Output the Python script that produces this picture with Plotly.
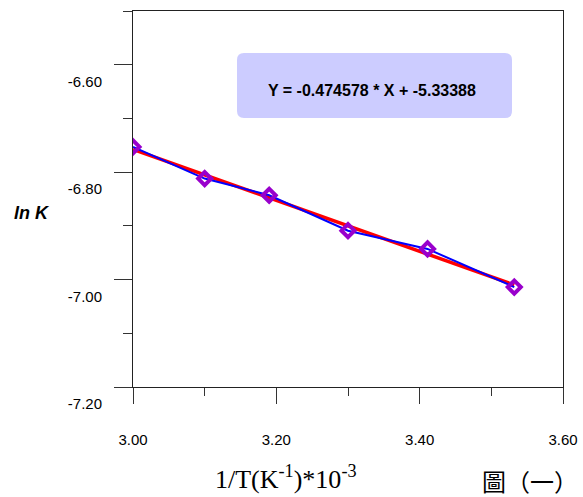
import plotly.graph_objects as go

# Data
inv_T = [3.000, 3.100, 3.190, 3.300, 3.411, 3.532]
ln_K = [-6.753, -6.812, -6.843, -6.909, -6.943, -7.014]

slope = -0.474578
intercept = -5.33388
fit_x = [inv_T[0], inv_T[-1]]
fit_y = [slope * x + intercept for x in fit_x]

x_ticks = [3.00, 3.20, 3.40, 3.60]
y_ticks = [-7.20, -7.00, -6.80, -6.60]

L, R, T, B = 133, 563, 11, 387
W, H = R - L, B - T


def px(x):
    return (x - L) / W


def py(y):
    return (B - y) / H


fig = go.Figure()
fig.add_trace(go.Scatter(x=fit_x, y=fit_y, mode="lines",
                         line=dict(color="#FF0000", width=3.5), hoverinfo="skip"))
fig.add_trace(go.Scatter(x=inv_T, y=ln_K, mode="lines",
                         line=dict(color="#0000FF", width=2)))
fig.add_trace(go.Scatter(x=inv_T, y=ln_K, mode="markers",
                         marker=dict(symbol="diamond-open", size=10, color="#9900CC",
                                     line=dict(width=4, color="#9900CC"))))

fig.update_layout(
    width=583, height=497,
    margin=dict(l=L, r=583 - R, t=T, b=497 - B, autoexpand=False),
    paper_bgcolor="white", plot_bgcolor="white",
    showlegend=False,
    font=dict(family="Arial, Liberation Sans, sans-serif", size=15, color="black"),
    xaxis=dict(range=[3.0, 3.6], tickvals=x_ticks, ticktext=[f"{v:.2f}" for v in x_ticks],
               showgrid=False, zeroline=False, showline=True, linecolor="#222", linewidth=1,
               mirror=True, ticks="outside", ticklen=16, tickcolor="#333", automargin=False,
               ticklabelstandoff=23, tickfont=dict(size=15),
               minor=dict(ticks="outside", ticklen=8, dtick=0.1, tick0=3.0, tickcolor="#333", showgrid=False)),
    yaxis=dict(range=[-7.2, -6.5], tickvals=y_ticks, ticktext=[f"{v:.2f}" for v in y_ticks],
               showgrid=False, zeroline=False, showline=True, linecolor="#222", linewidth=1,
               mirror=True, ticks="outside", ticklen=18, tickcolor="#333", automargin=False,
               ticklabelstandoff=9, ticklabelshift=17, tickfont=dict(size=15),
               minor=dict(ticks="outside", ticklen=9, dtick=0.1, tick0=-7.2, tickcolor="#333", showgrid=False)),
)

# rounded equation box
x0, x1 = px(237), px(512)
y0, y1 = py(118), py(53)
rx, ry = 7 / W, 7 / H
path = (f"M {x0+rx},{y0} L {x1-rx},{y0} Q {x1},{y0} {x1},{y0+ry} "
        f"L {x1},{y1-ry} Q {x1},{y1} {x1-rx},{y1} L {x0+rx},{y1} Q {x0},{y1} {x0},{y1-ry} "
        f"L {x0},{y0+ry} Q {x0},{y0} {x0+rx},{y0} Z")
fig.add_shape(type="path", xref="paper", yref="paper", path=path,
              fillcolor="#CCCCFF", line=dict(width=0), layer="below")

common = dict(xref="paper", yref="paper", showarrow=False, xanchor="center", yanchor="middle")
fig.add_annotation(x=px(372), y=py(90), text="<b>Y = -0.474578 * X + -5.33388</b>",
                   font=dict(size=16, family="Arial, Liberation Sans, sans-serif"), **common)

fig.add_annotation(x=px(32), y=py(213), text="<b><i>ln K</i></b>",
                   font=dict(size=18, family="Arial, Liberation Sans, sans-serif"), **common)

fig.add_annotation(x=px(286), y=py(477), text="1/T(K<sup>-1</sup>)*10<sup>-3</sup>",
                   font=dict(size=26, family="Liberation Serif, Times New Roman, serif"), **common)

fig.add_annotation(x=px(530), y=py(480), text="圖（一）",
                   font=dict(size=24, family="Noto Sans CJK TC, serif"), **common)

fig.write_html("out.html")
